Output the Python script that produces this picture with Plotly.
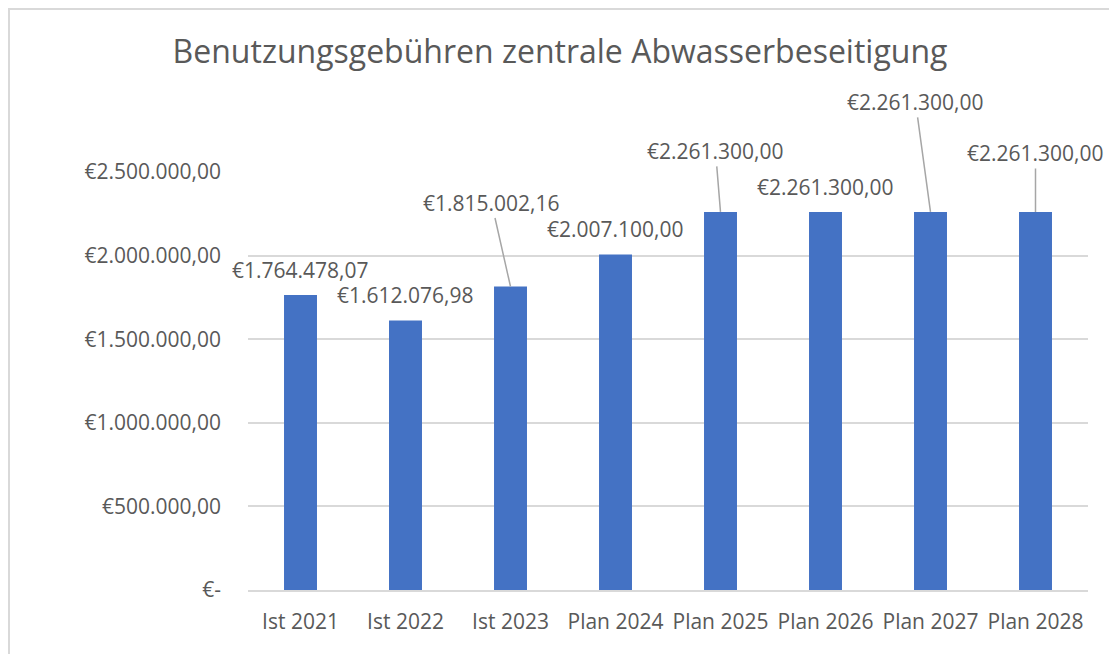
import plotly.graph_objects as go

categories = ["Ist 2021", "Ist 2022", "Ist 2023", "Plan 2024", "Plan 2025", "Plan 2026", "Plan 2027", "Plan 2028"]
values = [1764478.07, 1612076.98, 1815002.16, 2007100.00, 2261300.00, 2261300.00, 2261300.00, 2261300.00]
y_tickvals = [0, 500000, 1000000, 1500000, 2000000, 2500000]
y_ticktext = ["€-", "€500.000,00", "€1.000.000,00", "€1.500.000,00", "€2.000.000,00", "€2.500.000,00"]
title_text = "Benutzungsgebühren zentrale Abwasserbeseitigung"

# label placement (pixel offsets from bar top); None = plain label above bar
label_offsets = [None, None, (-19, -84), None, (-5, -61), None, (-15, -110), (0, -59)]


def de_money(v):
    s = f"{v:,.2f}"
    s = s.replace(",", "X").replace(".", ",").replace("X", ".")
    return "€" + s


TEXT = "#595959"
FONT = "Open Sans"
W, H = 1109, 646
L, R, T, B = 240, 29, 164, 64   # plot area 840 x 418 px

fig = go.Figure(go.Bar(x=categories, y=values, marker=dict(color="#4472C4", line=dict(width=0)),
                       hoverinfo="x+y"))

annotations = []
for c, v, off in zip(categories, values, label_offsets):
    if off is None:
        annotations.append(dict(x=c, y=v, xref="x", yref="y", text=de_money(v), showarrow=False,
                                yanchor="middle", yshift=25,
                                font=dict(family=FONT, size=21, color=TEXT)))
    else:
        annotations.append(dict(x=c, y=v, xref="x", yref="y", text=de_money(v), showarrow=True,
                                arrowhead=0, arrowwidth=1.5, arrowcolor="#A6A6A6",
                                ax=off[0], ay=off[1], standoff=0, startstandoff=0,
                                font=dict(family=FONT, size=21, color=TEXT)))

pw, ph = W - L - R, H - T - B
fig.update_layout(
    width=W, height=H,
    margin=dict(l=L, r=R, t=T, b=B, autoexpand=False),
    paper_bgcolor="white", plot_bgcolor="white",
    title=dict(text=title_text, x=552 / W, xref="container", y=1 - 44 / H, yref="container",
               xanchor="center", yanchor="middle",
               font=dict(family=FONT, size=32, color=TEXT)),
    bargap=0.686,
    showlegend=False,
    annotations=annotations,
    font=dict(family=FONT, color=TEXT),
    shapes=[dict(type="rect", xref="paper", yref="paper",
                 x0=(1 - L) / pw, x1=(W + 20 - L) / pw,
                 y0=-(B + 30) / ph, y1=(ph + T - 1) / ph,
                 line=dict(color="#D9D9D9", width=2), fillcolor="rgba(0,0,0,0)", layer="below")],
)
fig.update_xaxes(range=[-0.5, len(categories) - 0.5], autorange=False, automargin=False,
                 showgrid=False, showline=True, linecolor="#D9D9D9", linewidth=2, ticks="",
                 tickfont=dict(family=FONT, size=21, color=TEXT), ticklabelstandoff=12,
                 fixedrange=True)
fig.update_yaxes(range=[0, 2500000], autorange=False, automargin=False,
                 tickvals=y_tickvals, ticktext=y_ticktext,
                 showgrid=True, gridcolor="#D9D9D9", gridwidth=2, zeroline=False, showline=False,
                 ticks="", tickfont=dict(family=FONT, size=21, color=TEXT), ticklabelstandoff=26,
                 fixedrange=True)

fig.write_html("out.html")
